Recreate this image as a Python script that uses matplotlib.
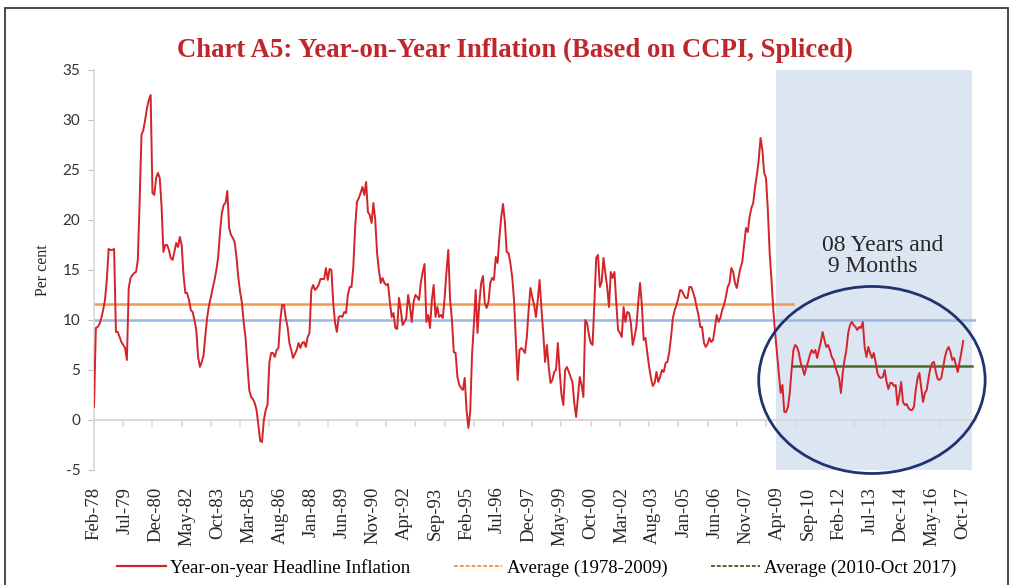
import numpy as np
import pandas as pd
import matplotlib
matplotlib.use("Agg")
import matplotlib.pyplot as plt
from matplotlib.patches import Ellipse, Rectangle
from matplotlib.lines import Line2D

plt.rcParams["axes.unicode_minus"] = False

# monthly y-o-y CCPI inflation (per cent), Feb-1978 .. Oct-2017
infl_1978_1989 = [
    1.3, 9.2, 9.3, 9.6, 10.2, 11.0, 12.0, 14.0, 17.1, 17.0, 17.0,            # 1978 (Feb-Dec)
    17.1, 8.8, 8.8, 8.3, 7.8, 7.5, 7.2, 6.0, 13.2, 14.2, 14.5, 14.7,         # 1979
    14.8, 16.0, 22.0, 28.5, 29.0, 30.0, 31.2, 32.0, 32.5, 22.7, 22.5, 24.2,  # 1980
    24.7, 24.2, 21.3, 16.8, 17.5, 17.5, 17.0, 16.2, 16.0, 16.8, 17.7, 17.3,  # 1981
    18.3, 17.5, 14.5, 12.7, 12.7, 12.0, 11.0, 10.8, 10.0, 9.0, 6.3, 5.3,     # 1982
    5.8, 6.5, 8.5, 10.3, 11.5, 12.3, 13.2, 14.0, 15.0, 16.3, 18.8, 20.7,     # 1983
    21.5, 21.7, 22.9, 19.2, 18.5, 18.2, 17.8, 16.3, 14.3, 12.8, 11.7, 9.7,   # 1984
    8.2, 5.5, 3.0, 2.3, 2.1, 1.7, 1.0, -0.5, -2.1, -2.2, 0.0, 1.0,           # 1985
    1.5, 5.7, 6.7, 6.7, 6.3, 7.0, 7.2, 10.0, 11.5, 11.5, 10.2, 9.3,          # 1986
    7.7, 7.0, 6.2, 6.6, 7.0, 7.7, 7.2, 7.7, 7.8, 7.3, 8.3, 8.7,              # 1987
    13.0, 13.5, 13.0, 13.2, 13.5, 14.1, 14.1, 14.1, 15.2, 14.0, 15.1, 15.0,  # 1988
    11.7, 9.7, 8.8, 10.3, 10.4, 10.3, 10.8, 10.7, 12.5, 13.3, 13.3, 15.3,    # 1989
]
infl_1990_1999 = [
    19.3, 21.8, 22.2, 22.7, 23.3, 22.5, 23.8, 20.8, 20.5, 19.7, 21.7, 20.0,  # 1990
    16.7, 15.0, 13.7, 14.2, 13.7, 13.5, 13.6, 11.8, 10.3, 10.7, 9.2, 9.1,    # 1991
    12.2, 11.0, 9.5, 9.8, 10.2, 12.5, 11.3, 9.8, 11.8, 12.5, 12.3, 12.0,     # 1992
    13.8, 14.8, 15.6, 9.8, 10.5, 9.2, 12.0, 13.5, 10.3, 11.3, 10.3, 10.5,    # 1993
    10.2, 12.2, 14.8, 17.0, 12.0, 10.0, 6.8, 6.7, 4.3, 3.5, 3.2, 3.0,        # 1994
    4.2, 1.0, -0.8, 0.8, 6.5, 9.5, 13.0, 8.7, 11.7, 13.7, 14.4, 11.7,        # 1995
    11.2, 11.8, 13.7, 14.2, 14.0, 16.3, 15.7, 18.3, 20.3, 21.6, 19.8, 16.8,  # 1996
    16.7, 15.7, 14.3, 12.0, 8.0, 4.0, 7.0, 7.2, 7.0, 6.7, 8.3, 11.0,         # 1997
    13.2, 12.3, 11.5, 10.3, 12.0, 14.0, 11.2, 8.7, 5.8, 7.5, 5.3, 3.7,       # 1998
    4.0, 4.8, 5.0, 7.7, 4.8, 2.5, 1.5, 5.0, 5.3, 4.8, 4.3, 3.8,              # 1999
]
infl_2000_2009 = [
    1.7, 0.3, 2.3, 4.3, 3.5, 2.3, 10.0, 9.7, 8.5, 7.7, 7.5, 11.7,            # 2000
    16.2, 16.5, 13.3, 13.8, 16.2, 14.7, 13.3, 11.3, 14.8, 14.2, 14.8, 11.7,  # 2001
    9.0, 8.7, 8.3, 11.3, 9.8, 10.8, 10.7, 9.7, 7.5, 8.3, 9.3, 11.7,          # 2002
    13.7, 11.5, 8.0, 8.2, 6.7, 5.3, 4.2, 3.4, 3.7, 4.8, 3.8, 4.3,            # 2003
    5.0, 4.8, 5.7, 5.8, 6.8, 8.3, 10.2, 11.0, 11.5, 12.2, 13.0, 12.9,        # 2004
    12.5, 12.2, 12.2, 13.3, 13.3, 12.8, 12.2, 11.3, 10.5, 9.3, 9.3, 7.7,     # 2005
    7.3, 7.6, 8.2, 7.8, 8.0, 9.2, 10.5, 9.8, 10.2, 11.0, 11.5, 12.3,         # 2006
    13.3, 13.7, 15.2, 14.8, 13.7, 13.2, 14.3, 15.2, 15.8, 17.5, 19.2, 18.8,  # 2007
    20.3, 21.2, 21.7, 23.3, 24.5, 26.0, 28.2, 27.0, 24.7, 24.2, 21.0, 16.7,  # 2008
    14.0, 11.0, 8.7, 6.7, 4.7, 2.7, 3.5, 0.8, 0.8, 1.3, 2.7, 5.0,            # 2009
]
infl_2010_2017 = [
    7.0, 7.5, 7.3, 6.7, 5.7, 5.2, 4.5, 5.2, 5.8, 6.5, 7.0, 6.7,              # 2010
    7.0, 6.2, 7.0, 7.8, 8.8, 8.0, 7.3, 7.5, 7.0, 6.3, 6.0, 5.3,              # 2011
    4.7, 4.2, 2.7, 4.7, 6.0, 7.0, 8.7, 9.5, 9.8, 9.5, 9.3, 9.0,              # 2012
    9.3, 9.2, 9.8, 7.3, 6.3, 7.3, 6.7, 6.2, 6.7, 5.8, 4.7, 4.3,              # 2013
    4.2, 4.3, 5.0, 3.8, 3.1, 3.7, 3.7, 3.4, 3.5, 1.5, 2.5, 3.8,              # 2014
    1.8, 1.5, 1.6, 1.2, 1.0, 1.0, 1.3, 3.0, 4.2, 4.7, 3.2, 1.8,              # 2015
    2.7, 3.0, 4.2, 5.2, 5.7, 5.8, 4.8, 4.1, 4.0, 4.2, 5.3, 6.3,              # 2016
    7.0, 7.3, 6.8, 6.0, 6.2, 5.5, 4.8, 5.8, 6.8, 7.9,                        # 2017 (Jan-Oct)
]

avg_1978_2009 = 11.6
avg_2010_2017 = 5.4
ref_level = 10.0

inflation = np.array(infl_1978_1989 + infl_1990_1999 + infl_2000_2009 + infl_2010_2017)
months = pd.date_range("1978-02-01", periods=len(inflation), freq="MS")
x = np.arange(len(inflation))
split = int(np.where(months == pd.Timestamp("2010-01-01"))[0][0])

serif = "Liberation Serif"
red = "#D3242B"
orange = "#F79646"
green = "#4F6B2A"
blue = "#9BB7DF"

fig = plt.figure(figsize=(10.11, 5.85), dpi=100)
ax = fig.add_axes([0.093, 0.1966, 0.8724, 0.6838])

# shaded period and annotation
ax.axvspan(373.5, 481, color="#DCE6F2", zorder=0, lw=0)
ax.axhline(ref_level, color=blue, lw=1.8, zorder=2)
ax.plot([0, split], [avg_1978_2009] * 2, color=orange, lw=1.8, zorder=2)
ax.plot([split, 481], [avg_2010_2017] * 2, color=green, lw=1.8, zorder=2)
ax.plot(x, inflation, color=red, lw=1.4, zorder=3)

ax.add_patch(Ellipse((426, 4.0), width=124, height=18.7, fill=False,
                     edgecolor="#1F3370", lw=2.0, clip_on=False, zorder=4))
ax.text(398.5, 18.5, "08 Years and\n 9 Months", fontsize=17, family=serif,
        color="#262626", ha="left", va="top", linespacing=1.0)

ax.set_xlim(0, 483)
ax.set_ylim(-5, 35)
ax.set_yticks(np.arange(-5, 36, 5))
ax.tick_params(axis="y", length=4, color="#BFBFBF", labelsize=11,
               labelcolor="#333333", pad=6)
for lab in ax.get_yticklabels():
    lab.set_family("Lato")
ax.set_ylabel("Per cent", family=serif, fontsize=11.5, color="#262626", labelpad=8)

ax.set_xticks(x[::17])
ax.set_xticklabels([d.strftime("%b-%y") for d in months[::17]], rotation=90,
                   family=serif, fontsize=13.5, color="#262626")
ax.tick_params(axis="x", length=0, pad=12)

for s in ["top", "right", "bottom"]:
    ax.spines[s].set_visible(False)
ax.spines["left"].set_color("#D9D9D9")
ax.spines["left"].set_linewidth(1.2)

# category axis drawn through zero, tick marks every 16 months
sec = ax.secondary_xaxis(5 / 40)
sec.set_xticks(x[::16])
sec.set_xticklabels([])
sec.tick_params(length=5, color="#D9D9D9", width=1.2)
sec.spines["bottom"].set_color("#D9D9D9")
sec.spines["bottom"].set_linewidth(1.5)

fig.suptitle("Chart A5: Year-on-Year Inflation (Based on CCPI, Spliced)",
             x=0.509, y=0.935, family=serif, fontweight="bold", fontsize=19.3,
             color="#C0272D")

handles = [
    Line2D([], [], color=red, lw=1.6),
    Line2D([], [], color=orange, lw=1.4, ls=(0, (2, 1))),
    Line2D([], [], color=green, lw=1.4, ls=(0, (2, 1))),
]
labels = ["Year-on-year Headline Inflation", "Average (1978-2009)",
          "Average (2010-Oct 2017)"]
fig.legend(handles, labels, loc="center", bbox_to_anchor=(0.531, 0.029), ncol=3,
           frameon=False, prop={"family": serif, "size": 13.5}, handlelength=2.6,
           columnspacing=2.3, handletextpad=0.25, borderpad=0.1)

fig.add_artist(Rectangle((5 / 1011, -0.02), 1003 / 1011, 1 - 8 / 585 + 0.02,
                         transform=fig.transFigure, fill=False,
                         edgecolor="#3A3A3A", lw=1.3))

fig.savefig("out.png", dpi=100)
